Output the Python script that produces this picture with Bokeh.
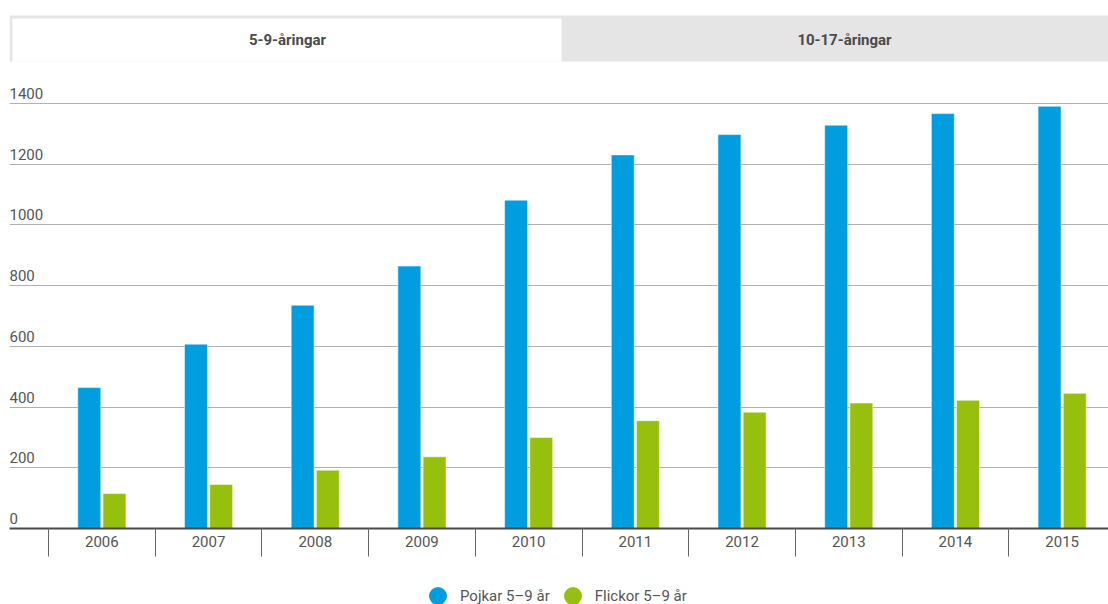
from bokeh.plotting import figure
from bokeh.models import (ColumnDataSource, FixedTicker, Range1d, Legend, LegendItem,
                          CustomJSTickFormatter, Grid)
from bokeh.layouts import column
from bokeh.transform import dodge
from bokeh.embed import file_html
from bokeh.resources import INLINE
from bokeh.core.properties import value

# ---- data ----
years = ["2006", "2007", "2008", "2009", "2010", "2011", "2012", "2013", "2014", "2015"]
pojkar = [464, 607, 735, 864, 1081, 1230, 1297, 1328, 1366, 1390]
flickor = [115, 145, 192, 236, 300, 355, 383, 413, 422, 445]
y_ticks = [0, 200, 400, 600, 800, 1000, 1200, 1400]
series_names = ["Pojkar 5\u20139 \u00e5r", "Flickor 5\u20139 \u00e5r"]
tab_labels = ["5-9-\u00e5ringar", "10-17-\u00e5ringar"]

BLUE = "#009ee0"
GREEN = "#97bf0d"
FONT = value("Roboto")
TXT = "#555555"

W = 1108
LEFT = 9

# ---- tabs ----
tabs = figure(width=W, height=70, x_range=Range1d(LEFT, W), y_range=Range1d(70, 0),
              output_backend="svg", toolbar_location=None,
              x_axis_location=None, y_axis_location=None,
              min_border_left=LEFT, min_border_right=0,
              min_border_top=0, min_border_bottom=0, outline_line_color=None)
tabs.xgrid.visible = False
tabs.ygrid.visible = False
tabs.quad(left=[9], right=[W], top=[15], bottom=[61], fill_color="#e5e5e5", line_color=None)
tabs.quad(left=[12], right=[561], top=[18], bottom=[61], fill_color="white", line_color=None)
tabs.text(x=[287, 844], y=[39, 39], text=tab_labels, text_align="center",
          text_baseline="middle", text_font=FONT, text_font_size="15px",
          text_font_style="bold", text_color="#4a4a4a")

# ---- chart ----
cat_px = 106.7
x_start = -39 / cat_px
x_end = x_start + (W - LEFT) / cat_px

src = ColumnDataSource(dict(xc=[i + 0.5 for i in range(len(years))],
                            pojkar=pojkar, flickor=flickor))

p = figure(width=W, height=502, x_range=Range1d(x_start, x_end), y_range=Range1d(0, 1475),
           output_backend="svg", toolbar_location=None, y_axis_location=None,
           min_border_left=LEFT, min_border_right=0, min_border_top=10, min_border_bottom=44,
           outline_line_color=None)
p.xgrid.visible = False
p.add_layout(Grid(dimension=1, ticker=FixedTicker(ticks=y_ticks),
                  grid_line_color="#b0b0b0", grid_line_width=1))

bw = 0.215
p.vbar(x=dodge("xc", -0.118, range=p.x_range), top="pojkar", bottom=0, width=bw,
       source=src, fill_color=BLUE, line_color="white", line_alpha=0.5, line_width=1)
p.vbar(x=dodge("xc", 0.118, range=p.x_range), top="flickor", bottom=0, width=bw,
       source=src, fill_color=GREEN, line_color="white", line_alpha=0.5, line_width=1)

# y tick labels drawn inside the plot, above each grid line
p.text(x=[x_start] * len(y_ticks), y=y_ticks, text=[str(t) for t in y_ticks],
       text_align="left", text_baseline="alphabetic", y_offset=-10,
       text_font=FONT, text_font_size="15px", text_color=TXT)

ax = p.xaxis[0]
ax.ticker = FixedTicker(ticks=[i + 0.5 for i in range(len(years))],
                        minor_ticks=list(range(len(years))))
ax.formatter = CustomJSTickFormatter(args=dict(labels=years),
                                     code="return labels[Math.floor(tick)];")
ax.major_tick_in = 0
ax.major_tick_out = 0
ax.major_tick_line_color = None
ax.minor_tick_in = 0
ax.minor_tick_out = 28
ax.minor_tick_line_color = "#666666"
ax.minor_tick_line_width = 1
ax.axis_line_color = "#4a4a4a"
ax.axis_line_width = 2
ax.major_label_standoff = -21
ax.major_label_text_font = "Roboto"
ax.major_label_text_font_size = "15px"
ax.major_label_text_color = TXT

# ---- legend ----
lg = figure(width=W, height=32, x_range=Range1d(0, 1), y_range=Range1d(0, 1),
            output_backend="svg", toolbar_location=None,
            x_axis_location=None, y_axis_location=None,
            min_border_left=LEFT, min_border_right=0,
            min_border_top=0, min_border_bottom=0, outline_line_color=None)
lg.xgrid.visible = False
lg.ygrid.visible = False
# legend proxies: one point each, placed outside the visible range
r1 = lg.scatter(x=[-5], y=[-5], marker="circle", size=18, fill_color=BLUE, line_color=None)
r2 = lg.scatter(x=[-5], y=[-5], marker="circle", size=18, fill_color=GREEN, line_color=None)
legend = Legend(items=[LegendItem(label=series_names[0], renderers=[r1]),
                       LegendItem(label=series_names[1], renderers=[r2])],
                orientation="horizontal", location=(415 - LEFT, -14),
                glyph_width=45, glyph_height=45, label_standoff=0, spacing=-4,
                padding=0, margin=0, border_line_color=None, background_fill_alpha=0,
                label_text_font="Roboto", label_text_font_size="15px",
                label_text_color=TXT, label_text_baseline="middle")
lg.add_layout(legend)

layout = column(tabs, p, lg, spacing=0)
open("out.html", "w").write(file_html(layout, INLINE))
